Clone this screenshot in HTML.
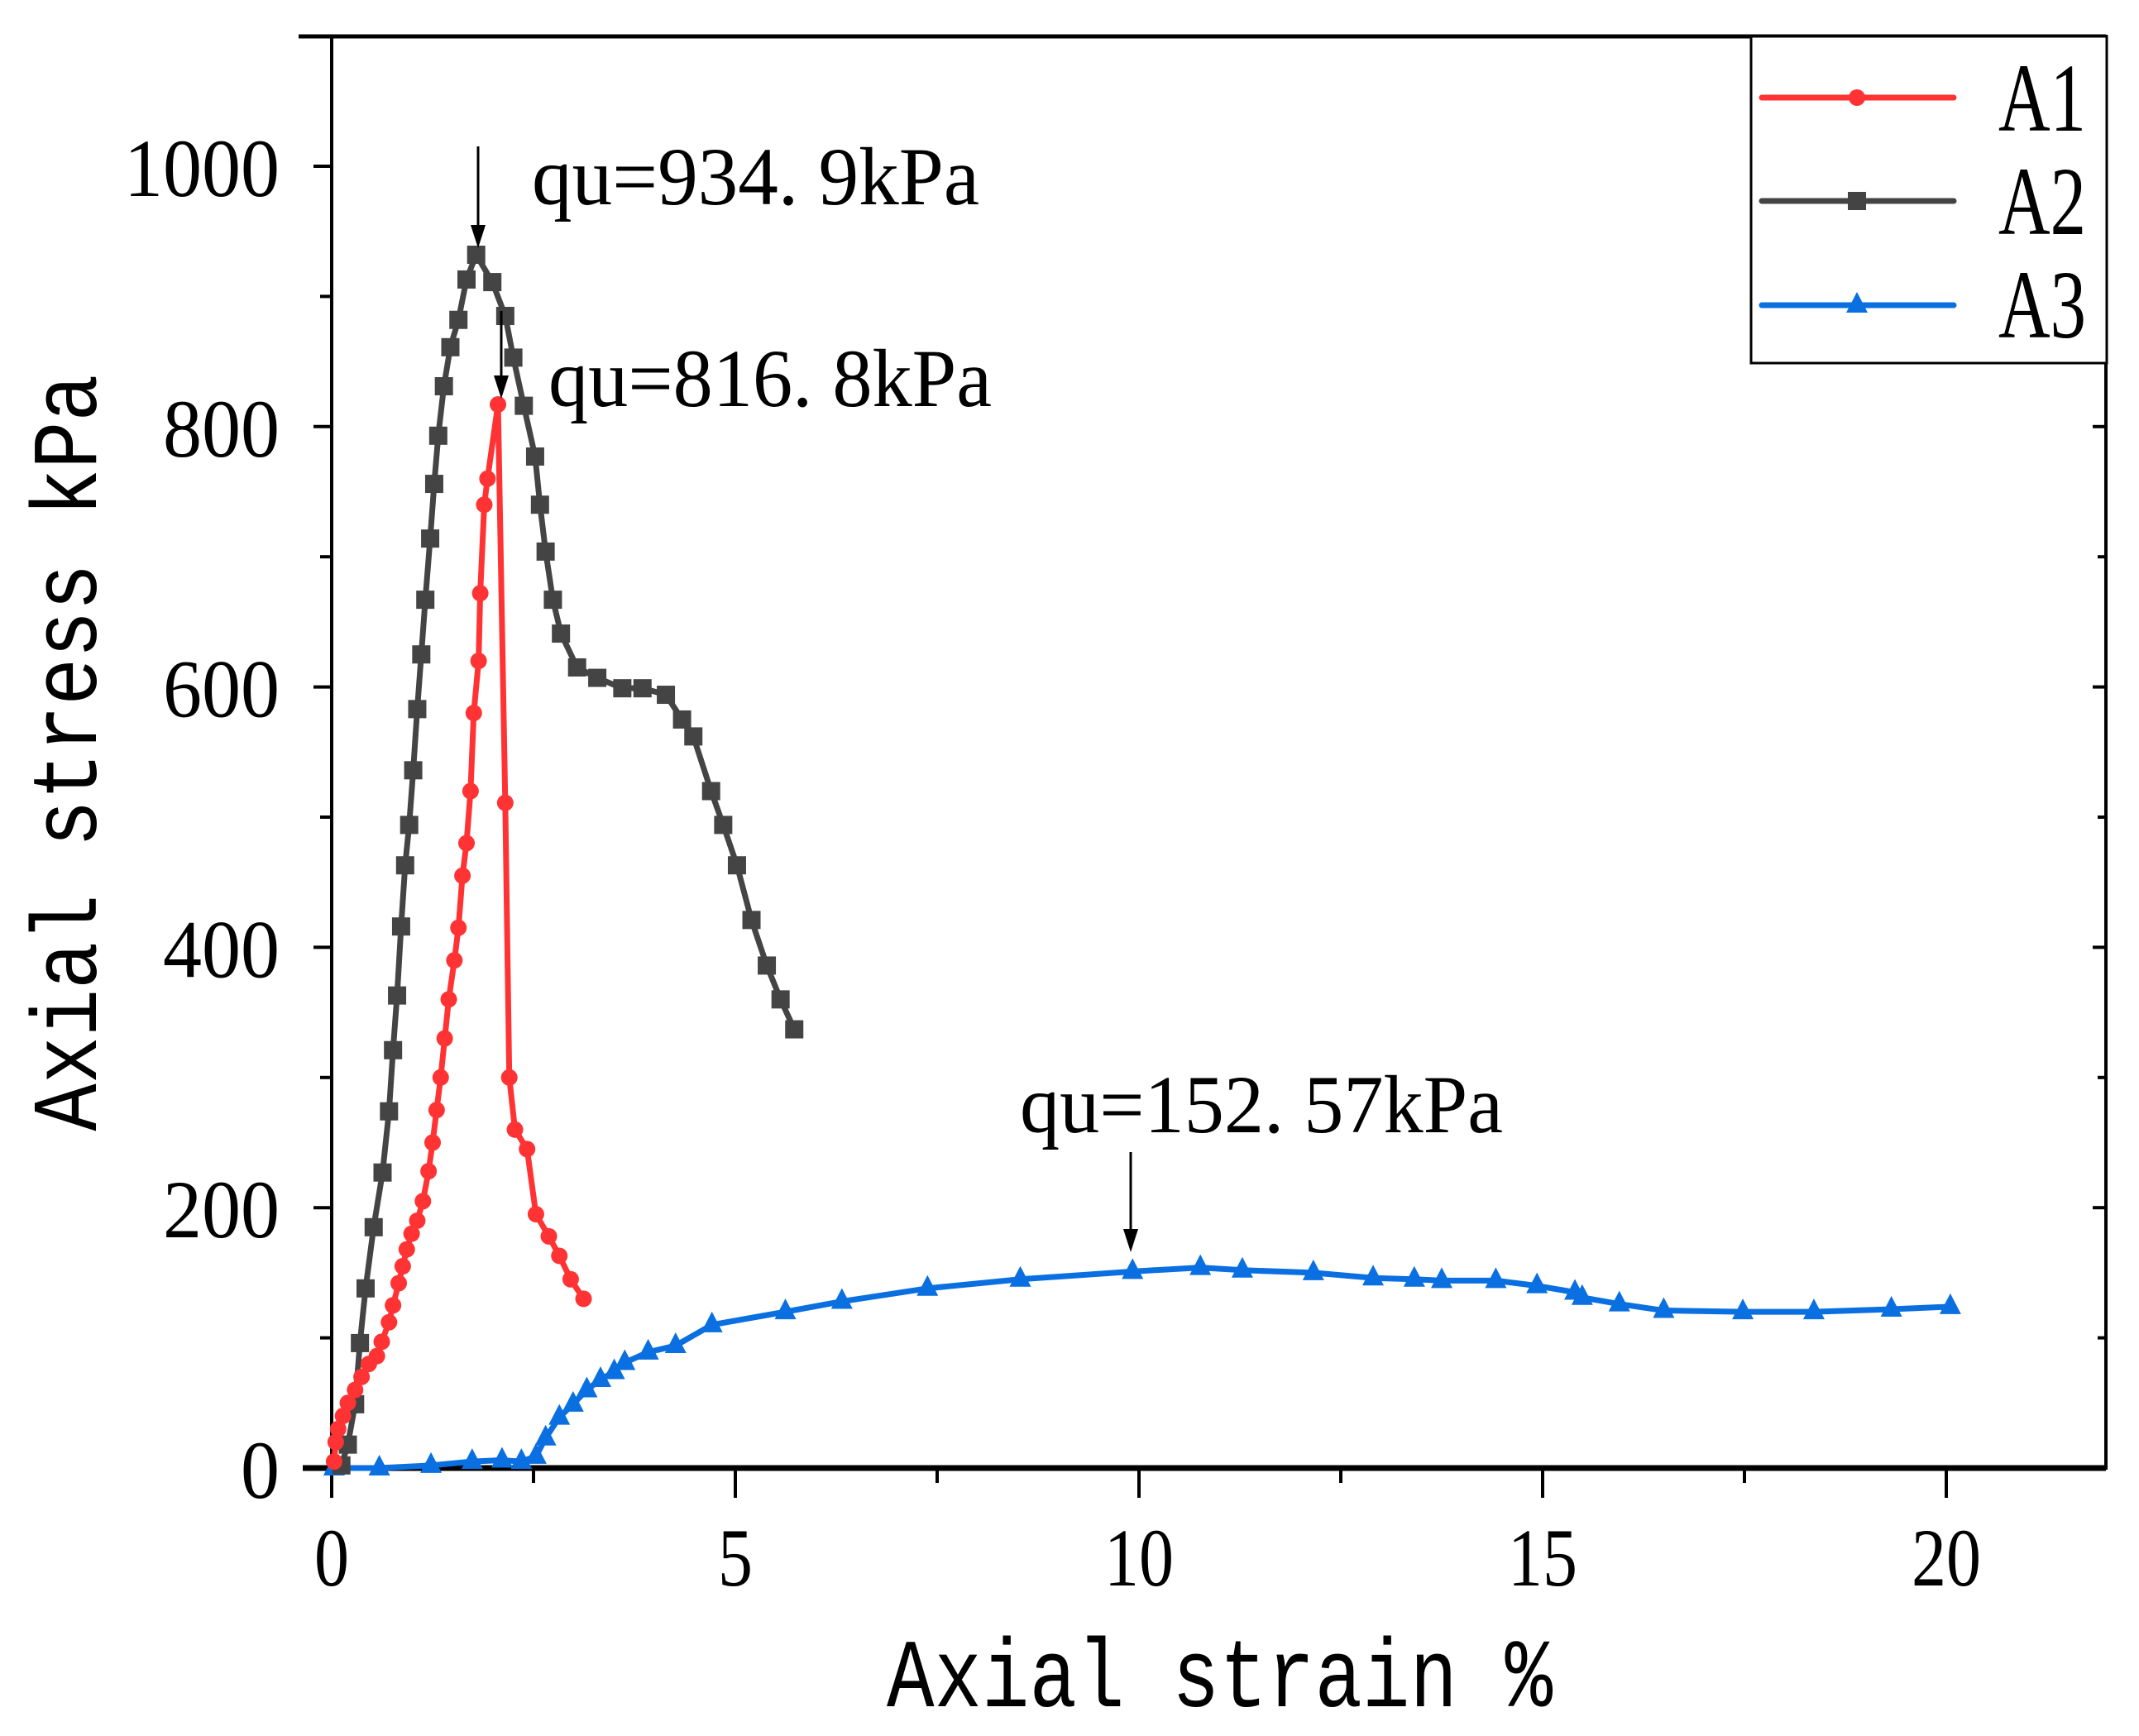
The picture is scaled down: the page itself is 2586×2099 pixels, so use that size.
<!DOCTYPE html>
<html><head><meta charset="utf-8"><style>
html,body{margin:0;padding:0;background:#fff;}
svg{display:block;}
text{font-family:"Liberation Serif","Noto Serif CJK SC",serif;fill:#000;}
.mono{font-family:"Liberation Mono","Noto Serif CJK SC",monospace;}
</style></head><body>
<svg id="chart" width="2586" height="2099" viewBox="0 0 2586 2099" xmlns="http://www.w3.org/2000/svg">
<g id="axes"></g>
<g id="series"></g>
<g id="annot"></g>
<g id="legend"></g>
</svg>
<script>
const a1X=[0.03,0.05,0.08,0.14,0.2,0.29,0.37,0.46,0.56,0.62,0.71,0.76,0.83,0.88,0.93,0.99,1.06,1.13,1.2,1.25,1.3,1.35,1.4,1.45,1.52,1.57,1.62,1.67,1.72,1.76,1.82,1.84,1.89,1.93,2.06,2.15,2.2,2.27,2.42,2.53,2.69,2.82,2.96,3.12];
const a1Y=[5,20,30,40,50,60,70,80,86,97,112,125,142,155,168,180,190,205,228,250,275,300,330,360,390,415,455,480,520,580,620,672,740,760,817,511,300,260,245,195,178,163,145,130];
const a2X=[0.12,0.2,0.29,0.35,0.42,0.52,0.63,0.71,0.76,0.81,0.86,0.91,0.96,1.01,1.06,1.11,1.16,1.22,1.27,1.32,1.39,1.47,1.57,1.67,1.79,1.99,2.15,2.25,2.38,2.52,2.58,2.65,2.74,2.84,3.04,3.29,3.6,3.85,4.14,4.34,4.48,4.7,4.85,5.02,5.2,5.39,5.56,5.73];
const a2Y=[2,18,49,96,138,185,227,274,321,363,416,463,494,536,583,625,667,714,756,793,831,861,882,913,932,911,885,853,816,777,740,704,667,641,615,607,599,599,594,575,562,520,494,463,421,386,360,337];
const a3X=[0.03,0.59,1.23,1.74,2.11,2.35,2.53,2.65,2.82,2.99,3.16,3.33,3.5,3.63,3.92,4.26,4.71,5.62,6.32,7.38,8.53,9.92,10.76,11.28,12.16,12.9,13.41,13.75,14.42,14.93,15.4,15.49,15.95,16.5,17.48,18.36,19.32,20.05];
const a3Y=[0,0,2,5,6,5,9,23,39,49,60,68,74,81,89,94,110,120,128,138,145,151,154,152,150,146,145,144,144,140,135,131,126,121,120,120,122,124];
const xTicks=[0,5,10,15,20];
const yTicks=[0,200,400,600,800,1000];
const NS="http://www.w3.org/2000/svg";
const L=401,R=2546,T=44,B=1775;
function X(v){return L+v*97.6;}
function Y(v){return B-v*1.574;}
function mk(tag,attrs,parent){const e=document.createElementNS(NS,tag);for(const k in attrs)e.setAttribute(k,attrs[k]);parent.appendChild(e);return e;}
const axes=document.getElementById('axes');
let e=mk('rect',{x:L,y:T,width:R-L,height:B-T,fill:'none',stroke:'#000','stroke-width':4},axes);

e=mk('line',{x1:L-35,y1:B,x2:R,y2:B,stroke:'#000','stroke-width':7},axes);

e=mk('line',{x1:L-40,y1:T,x2:R,y2:T,stroke:'#000','stroke-width':5},axes);

for(let v=0;v<=22;v+=2.5){const major=(v%5===0);
 e=mk('line',{x1:X(v),y1:B,x2:X(v),y2:B+(major?36:18),stroke:'#000','stroke-width':4},axes);
 }
xTicks.forEach(v=>{const s=String(v);
 e=mk('text',{x:X(v),y:1917,'font-size':100,'text-anchor':'middle',textLength:s.length*42,lengthAdjust:'spacingAndGlyphs'},axes);
 e.textContent=s;});
for(let v=0;v<=1100;v+=100){const major=(v%200===0);
 e=mk('line',{x1:L-(major?22:14),y1:Y(v),x2:L,y2:Y(v),stroke:'#000','stroke-width':4},axes);
 
 e=mk('line',{x1:R-(major?16:10),y1:Y(v),x2:R,y2:Y(v),stroke:'#000','stroke-width':4},axes);
 }
yTicks.forEach(v=>{const s=String(v);
 e=mk('text',{x:338,y:Y(v)+36,'font-size':100,'text-anchor':'end',textLength:s.length*47,lengthAdjust:'spacingAndGlyphs'},axes);
 e.textContent=s;});
e=mk('text',{x:1072,y:2063,'font-size':118,class:'mono',textLength:805,lengthAdjust:'spacingAndGlyphs'},axes);
e.textContent='Axial strain %';
e=mk('text',{x:0,y:0,'font-size':112,class:'mono','text-anchor':'middle',textLength:915,lengthAdjust:'spacingAndGlyphs',transform:'translate(116,910) rotate(-90)'},axes);
e.textContent='Axial stress kPa';
const ser=document.getElementById('series');
function marker(type,x,y,color,g){
 if(type==='circle')return mk('circle',{cx:x,cy:y,r:10,fill:color},g);
 if(type==='square')return mk('rect',{x:x-11,y:y-11,width:22,height:22,fill:color},g);
 return mk('polygon',{points:`${x},${y-16} ${x-13},${y+9} ${x+13},${y+9}`,fill:color},g);}
function drawSeries(xs,ys,color,type,name){
 const g=mk('g',{},ser);
 const p=mk('polyline',{points:xs.map((x,i)=>X(x)+','+Y(ys[i])).join(' '),fill:'none',stroke:color,'stroke-width':7,'stroke-linejoin':'round'},g);
 
 xs.forEach((x,i)=>{const m=marker(type,X(x),Y(ys[i]),color,g);
  });}
drawSeries(a3X,a3Y,'#0a6fe0','tri','series-a3');
drawSeries(a2X,a2Y,'#444444','square','series-a2');
drawSeries(a1X,a1Y,'#ff3333','circle','series-a1');
const an=document.getElementById('annot');
function arrow(x,y1,y2,name){const g=mk('g',{},an);
 mk('line',{x1:x,y1:y1,x2:x,y2:y2-18,stroke:'#000','stroke-width':3},g);
 mk('polygon',{points:`${x-9},${y2-28} ${x+9},${y2-28} ${x},${y2}`,fill:'#000'},g);}
arrow(578,177,300,'arrow-a2-peak');
arrow(606,376,482,'arrow-a1-peak');
arrow(1367,1393,1514,'arrow-a3-peak');
[[643,247,541,'qu=934. 9kPa','label-a2-peak'],[663,491,536,'qu=816. 8kPa','label-a1-peak'],[1233,1369,584,'qu=152. 57kPa','label-a3-peak']].forEach(a=>{
 e=mk('text',{x:a[0],y:a[1],'font-size':100,textLength:a[2],lengthAdjust:'spacingAndGlyphs'},an);
 e.textContent=a[3];});
const lg=document.getElementById('legend');
e=mk('rect',{x:2117,y:44,width:430,height:395,fill:'#fff',stroke:'#000','stroke-width':3},lg);

[['A1','#ff3333','circle',118,158],['A2','#444444','square',243,283],['A3','#0a6fe0','tri',369,408]].forEach(l=>{
 const g=mk('g',{},lg);
 mk('line',{x1:2130,y1:l[3],x2:2362,y2:l[3],stroke:l[1],'stroke-width':7,'stroke-linecap':'round'},g);
 marker(l[2],2245,l[3],l[1],g);
 const t=mk('text',{x:2416,y:l[4],'font-size':118,textLength:106,lengthAdjust:'spacingAndGlyphs'},g);t.textContent=l[0];});
</script>
</body></html>
